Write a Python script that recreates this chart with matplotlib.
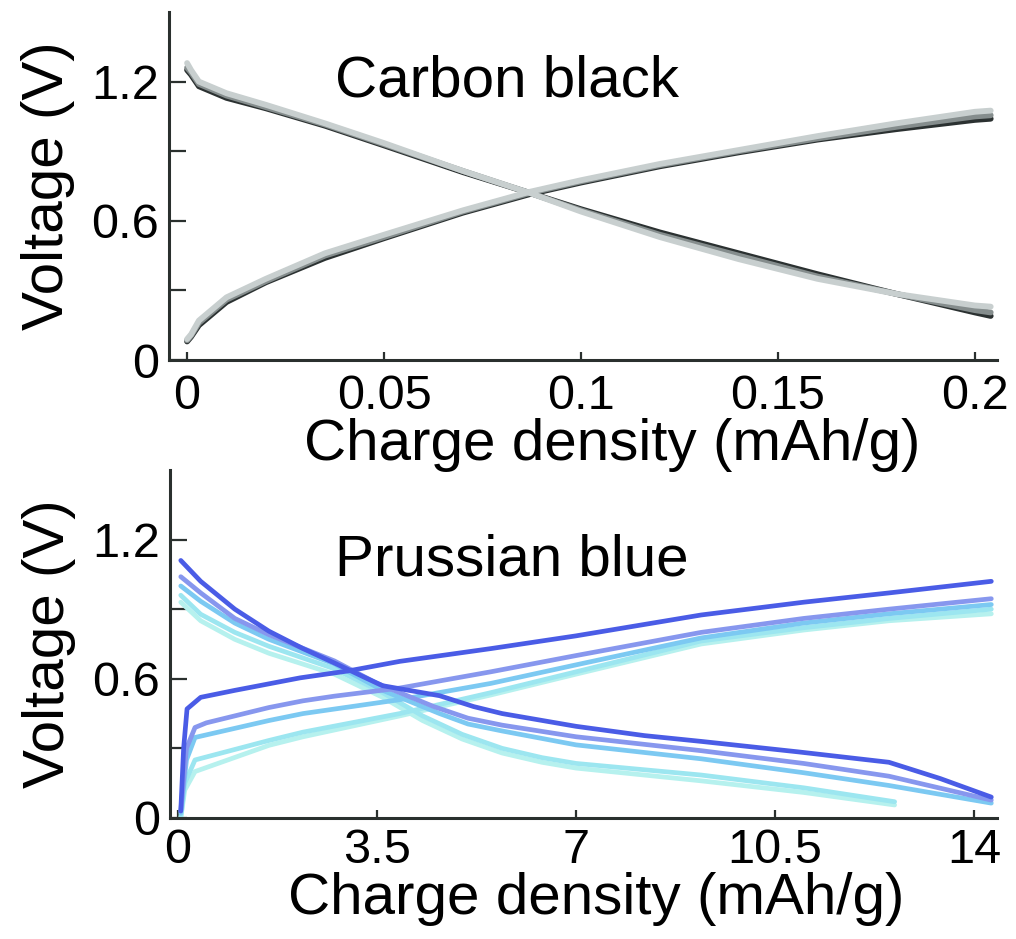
import numpy as np
import matplotlib
matplotlib.use("Agg")
from matplotlib import pyplot as plt

plt.rcParams['font.family'] = ['Liberation Sans', 'DejaVu Sans']

# ---- Carbon black (top panel), three overlapping cycles, dark -> light
cb_x = [0, 0.001, 0.003, 0.01, 0.02, 0.035, 0.05, 0.07, 0.087, 0.1, 0.12, 0.14, 0.16, 0.18, 0.2, 0.204]
cb_dis_dark = [1.25, 1.23, 1.18, 1.13, 1.085, 1.01, 0.925, 0.81, 0.72, 0.65, 0.55, 0.46, 0.37, 0.285, 0.205, 0.19]
cb_dis_mid = [1.26, 1.24, 1.19, 1.14, 1.09, 1.015, 0.93, 0.815, 0.72, 0.645, 0.54, 0.45, 0.36, 0.285, 0.215, 0.205]
cb_dis_light = [1.28, 1.25, 1.2, 1.15, 1.1, 1.02, 0.935, 0.815, 0.72, 0.64, 0.53, 0.435, 0.35, 0.285, 0.235, 0.23]
cb_chg_dark = [0.08, 0.1, 0.15, 0.25, 0.335, 0.44, 0.525, 0.635, 0.715, 0.765, 0.835, 0.895, 0.95, 0.995, 1.035, 1.04]
cb_chg_mid = [0.085, 0.105, 0.16, 0.26, 0.34, 0.45, 0.53, 0.64, 0.72, 0.77, 0.84, 0.9, 0.955, 1.005, 1.05, 1.055]
cb_chg_light = [0.09, 0.11, 0.17, 0.27, 0.35, 0.46, 0.54, 0.645, 0.725, 0.775, 0.845, 0.905, 0.965, 1.02, 1.07, 1.075]
cb_colors = ['#2b3131', '#858d8d', '#c8cfcf']

# ---- Prussian blue (bottom panel), five cycles
pb_colors = ['#4a5ce6', '#8797ee', '#7cc9f2', '#9ce6f0', '#b6f1ee']

pb_dis_x = [
    [0.05, 0.4, 1.0, 1.6, 2.2, 2.75, 3.3, 3.6, 4.6, 5.2, 5.7, 7.0, 8.2, 9.2, 10.9, 12.5, 13.4, 14.3],
    [0.05, 0.4, 1.0, 1.6, 2.75, 3.5, 4.5, 5.1, 5.7, 7.0, 9.2, 11.0, 12.5, 14.3],
    [0.05, 0.4, 1.0, 1.6, 2.75, 3.6, 4.6, 5.1, 5.7, 7.0, 9.2, 11.0, 12.5, 14.3],
    [0.05, 0.4, 1.0, 1.6, 2.75, 3.6, 4.3, 5.0, 5.7, 6.4, 7.0, 9.2, 11.0, 12.6],
    [0.05, 0.4, 1.0, 1.6, 2.75, 3.6, 4.3, 5.0, 5.7, 6.4, 7.0, 9.2, 11.0, 12.6],
]
pb_dis_v = [
    [1.11, 1.02, 0.9, 0.805, 0.73, 0.668, 0.604, 0.57, 0.527, 0.48, 0.45, 0.395, 0.355, 0.33, 0.285, 0.24, 0.17, 0.09],
    [1.04, 0.97, 0.86, 0.79, 0.677, 0.58, 0.48, 0.43, 0.4, 0.35, 0.29, 0.235, 0.18, 0.077],
    [1.0, 0.934, 0.84, 0.77, 0.664, 0.55, 0.45, 0.405, 0.375, 0.315, 0.255, 0.195, 0.14, 0.064],
    [0.96, 0.878, 0.8, 0.74, 0.643, 0.54, 0.44, 0.36, 0.3, 0.26, 0.235, 0.185, 0.13, 0.07],
    [0.93, 0.85, 0.77, 0.71, 0.62, 0.52, 0.42, 0.34, 0.28, 0.24, 0.215, 0.16, 0.11, 0.056],
]
pb_chg_x = [
    [0.05, 0.1, 0.16, 0.4, 1.0, 2.15, 3.0, 3.9, 5.5, 7.0, 9.2, 11.0, 12.5, 14.3],
    [0.05, 0.15, 0.3, 0.5, 1.6, 2.2, 2.75, 3.9, 5.5, 7.0, 9.2, 11.0, 12.5, 14.3],
    [0.05, 0.15, 0.3, 1.6, 2.2, 3.9, 5.5, 7.0, 9.2, 11.0, 12.5, 14.3],
    [0.05, 0.12, 0.3, 1.6, 2.2, 3.9, 5.5, 7.0, 9.2, 11.0, 12.5, 14.3],
    [0.05, 0.12, 0.3, 1.6, 2.2, 3.9, 5.5, 7.0, 9.2, 11.0, 12.5, 14.3],
]
pb_chg_v = [
    [0.03, 0.3, 0.47, 0.52, 0.55, 0.604, 0.634, 0.675, 0.73, 0.785, 0.875, 0.93, 0.97, 1.02],
    [0.03, 0.3, 0.39, 0.41, 0.476, 0.505, 0.525, 0.56, 0.63, 0.7, 0.8, 0.86, 0.9, 0.945],
    [0.02, 0.25, 0.347, 0.42, 0.45, 0.51, 0.58, 0.66, 0.776, 0.84, 0.88, 0.92],
    [0.0, 0.15, 0.25, 0.334, 0.37, 0.45, 0.54, 0.63, 0.763, 0.82, 0.86, 0.9],
    [0.0, 0.12, 0.2, 0.313, 0.35, 0.44, 0.53, 0.62, 0.75, 0.81, 0.85, 0.88],
]

yticks = [0, 0.3, 0.6, 0.9, 1.2]
ytick_labels = ['0', '', '0.6', '', '1.2']
cb_xticks = [0, 0.05, 0.1, 0.15, 0.2]
cb_xtick_labels = ['0', '0.05', '0.1', '0.15', '0.2']
pb_xticks = [0, 3.5, 7, 10.5, 14]
pb_xtick_labels = ['0', '3.5', '7', '10.5', '14']

fig = plt.figure(figsize=(10.16, 9.39), dpi=100)
ax1 = fig.add_axes([0.1663, 0.6166, 0.815, 0.3706])
ax2 = fig.add_axes([0.1673, 0.1289, 0.814, 0.3706])
ax2.patch.set_visible(False)

spine_col = '#2a302e'


def style(ax, xticks, xlabels, xlim, xpad):
    ax.set_xlim(*xlim)
    ax.set_ylim(0, 1.5)
    for s in ['top', 'right']:
        ax.spines[s].set_visible(False)
    for s in ['left', 'bottom']:
        ax.spines[s].set_linewidth(2.2)
        ax.spines[s].set_color(spine_col)
    ax.set_yticks(yticks, ytick_labels)
    ax.set_xticks(xticks, xlabels)
    ax.tick_params(axis='y', direction='in', length=12, width=1.6, color=spine_col,
                   labelsize=35, pad=7)
    ax.tick_params(axis='x', direction='in', length=5.5, width=1.6, color=spine_col,
                   labelsize=35, pad=xpad)
    ax.set_ylabel('Voltage (V)', fontsize=42, labelpad=12)
    ax.set_xlabel('Charge density (mAh/g)', fontsize=42)


for c, dd, cc in zip(cb_colors, [cb_dis_dark, cb_dis_mid, cb_dis_light],
                     [cb_chg_dark, cb_chg_mid, cb_chg_light]):
    ax1.plot(cb_x, dd, color=c, lw=4.2, solid_capstyle='round')
    ax1.plot(cb_x, cc, color=c, lw=4.2, solid_capstyle='round')
style(ax1, cb_xticks, cb_xtick_labels, (-0.0046, 0.2056), 10)
ax1.text(0.2, 0.8, 'Carbon black', transform=ax1.transAxes, fontsize=42, va='center')
ax1.xaxis.set_label_coords(0.535, -0.168)

for i in range(len(pb_colors) - 1, -1, -1):
    ax2.plot(pb_dis_x[i], pb_dis_v[i], color=pb_colors[i], lw=3.4, solid_capstyle='round')
    ax2.plot(pb_chg_x[i], pb_chg_v[i], color=pb_colors[i], lw=3.4, solid_capstyle='round')
style(ax2, pb_xticks, pb_xtick_labels, (-0.14, 14.4), 7)
ax2.text(0.2, 0.741, 'Prussian blue', transform=ax2.transAxes, fontsize=42, va='center')
ax2.xaxis.set_label_coords(0.515, -0.155)

fig.savefig('out.png', dpi=100)
